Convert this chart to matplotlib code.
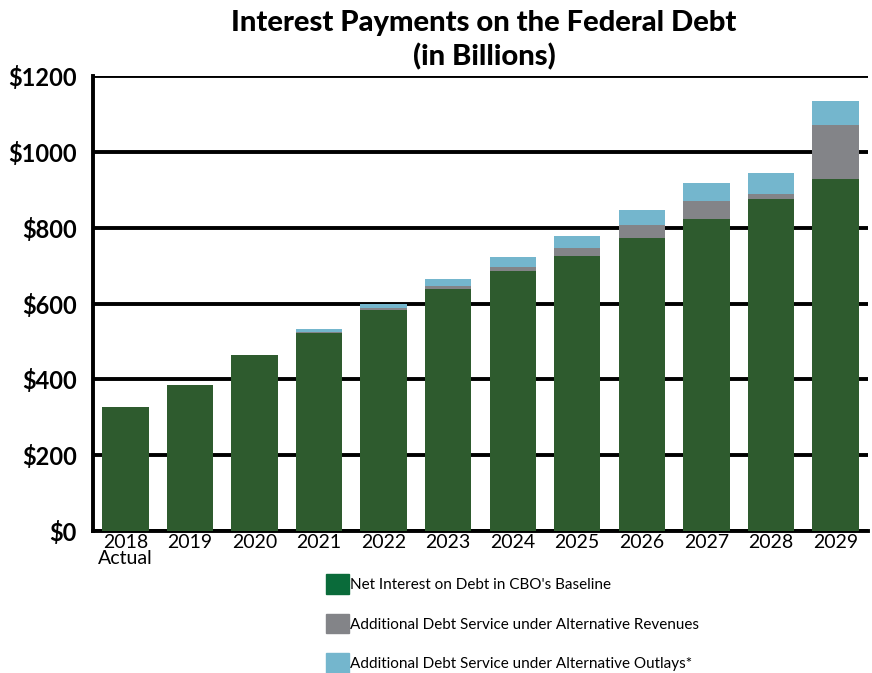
import matplotlib.pyplot as plt
from matplotlib.patches import Patch

plt.rcParams['font.family'] = ['Lato', 'DejaVu Sans']

years = ['2018\nActual', '2019', '2020', '2021', '2022', '2023',
         '2024', '2025', '2026', '2027', '2028', '2029']
baseline = [328, 385, 464, 522, 583, 638, 685, 725, 772, 822, 875, 928]
alt_revenues = [0, 0, 0, 3, 6, 8, 11, 21, 35, 48, 13, 142]
alt_outlays = [0, 0, 0, 8, 10, 18, 26, 32, 39, 47, 55, 63]

green = '#2e5b2e'
gray = '#838488'
blue = '#74b6cd'

fig = plt.figure(figsize=(8.72, 6.73), dpi=100)
ax = fig.add_axes([0.107, 0.211, 0.888, 0.676])

x = range(len(years))
width = 0.72
ax.bar(x, baseline, width, color=green, zorder=3)
bottom2 = baseline
ax.bar(x, alt_revenues, width, bottom=bottom2, color=gray, zorder=3)
bottom3 = [a + b for a, b in zip(baseline, alt_revenues)]
ax.bar(x, alt_outlays, width, bottom=bottom3, color=blue, zorder=3)

ax.set_xlim(-0.5, 11.5)
ax.set_ylim(0, 1200)
ax.set_yticks(range(0, 1201, 200))
ax.set_yticklabels(['$' + str(v) for v in range(0, 1201, 200)],
                   fontsize=17, fontweight='bold')
ax.set_xticks(list(x))
ax.set_xticklabels(years, fontsize=14, linespacing=0.92, va='top')
ax.tick_params(axis='both', length=0)
ax.tick_params(axis='y', pad=12)
ax.tick_params(axis='x', pad=2)

ax.grid(axis='y', color='black', linewidth=2.8, zorder=0)
for s in ['top', 'right']:
    ax.spines[s].set_visible(False)
ax.spines['left'].set_linewidth(2.8)
ax.spines['bottom'].set_linewidth(2.8)

fig.suptitle('Interest Payments on the Federal Debt\n(in Billions)',
             x=0.555, y=0.985, fontsize=21, fontweight='black',
             linespacing=1.3)

handles = [Patch(color='#0a6b3a'), Patch(color=gray), Patch(color=blue)]
labels = ["Net Interest on Debt in CBO's Baseline",
          'Additional Debt Service under Alternative Revenues',
          'Additional Debt Service under Alternative Outlays*']
fig.legend(handles, labels, loc='upper left', bbox_to_anchor=(0.365, 0.158),
           frameon=False, fontsize=11, handlelength=1.5, handleheight=1.6,
           handletextpad=0.05, labelspacing=1.3, borderpad=0)

fig.savefig('out.png', dpi=100)
